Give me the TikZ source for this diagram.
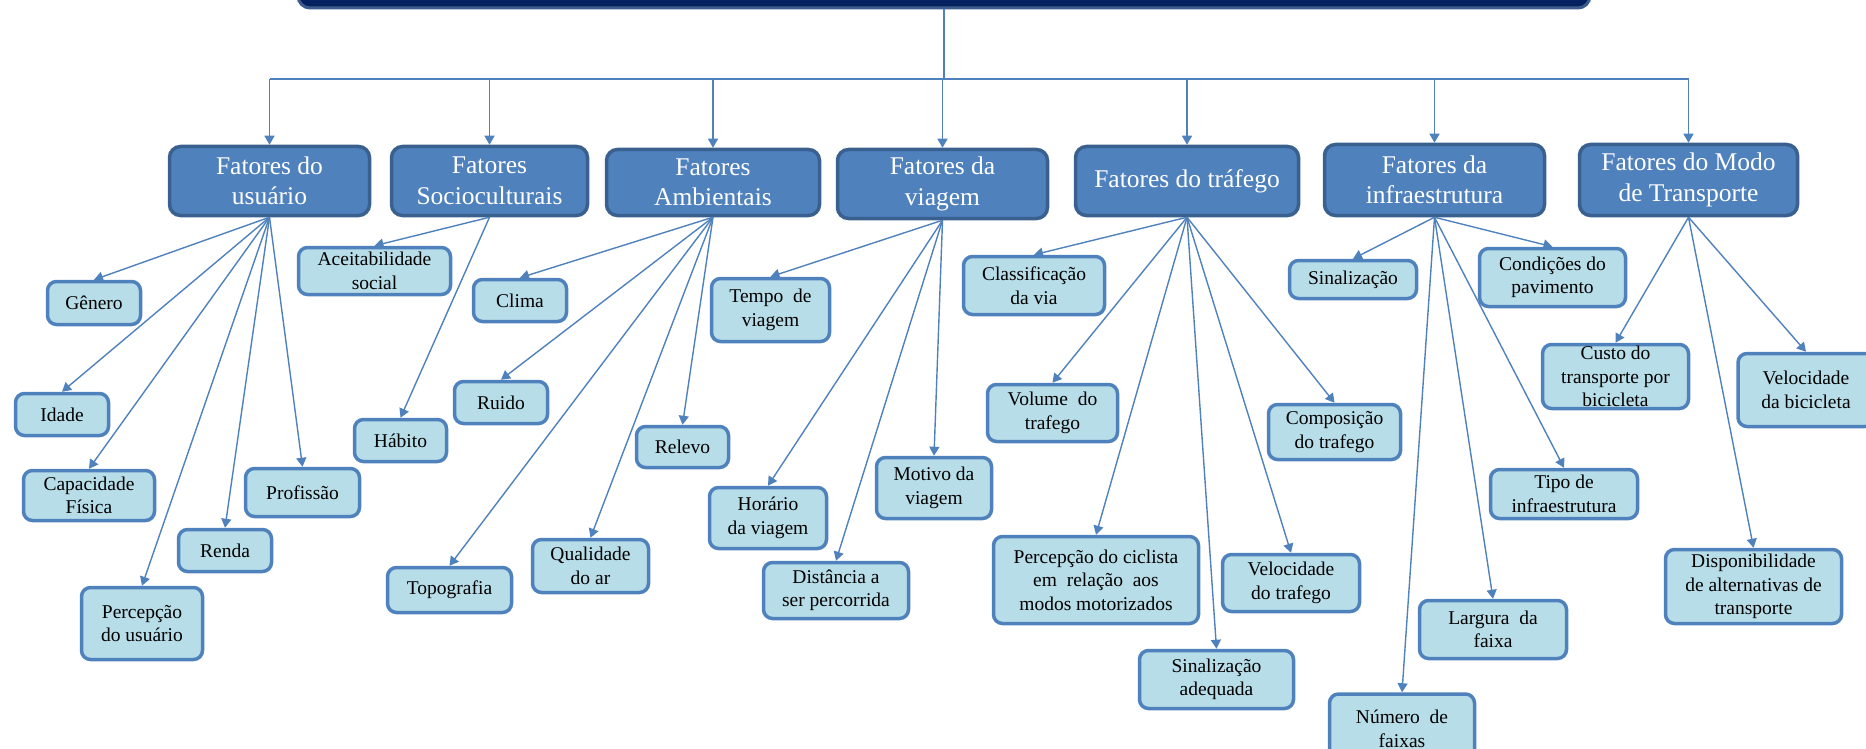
\documentclass[tikz,border=0pt]{standalone}
\usepackage{fontspec}
\setmainfont{Liberation Serif}
\usetikzlibrary{arrows.meta}

\definecolor{navy}{RGB}{6,33,96}
\definecolor{navyedge}{RGB}{62,92,140}
\definecolor{catfill}{RGB}{79,129,189}
\definecolor{catedge}{RGB}{58,96,143}
\definecolor{itemfill}{RGB}{183,221,232}
\definecolor{itemedge}{RGB}{79,129,189}
\definecolor{linkblue}{RGB}{79,129,189}

\begin{document}
\begin{tikzpicture}[x=1pt,y=-1pt,
  headbox/.style={draw=navyedge, fill=navy, line width=3pt, rounded corners=12pt, inner sep=0pt},
  catbox/.style={draw=catedge, fill=catfill, line width=3.5pt, rounded corners=11pt,
    text=white, align=center, inner sep=0pt, font=\fontsize{25.5}{30.5}\selectfont},
  itembox/.style={draw=itemedge, fill=itemfill, line width=3.5pt, rounded corners=9pt,
    text=black, align=center, inner sep=0pt, font=\fontsize{19.5}{23.5}\selectfont},
  dims/.style 2 args={minimum width=#1pt, minimum height=#2pt},
  link/.style={draw=linkblue, line width=1.4pt},
  arr/.style={link, -{Triangle[length=9pt,width=10pt]}},
]
\useasboundingbox (0,0) rectangle (1866,749);
\clip (0,0) rectangle (1866,749);

% title bar at the top edge
\node[headbox, dims={1292}{60}] (head) at (944,-22) {};

% main categories
\node[catbox, dims={200}{69}] (usr) at (269.5,181) {Fatores do\\usuário};
\node[catbox, dims={196}{69}] (soc) at (489.5,181) {Fatores\\Socioculturais};
\node[catbox, dims={213}{66}] (amb) at (713,182.5) {Fatores\\Ambientais};
\node[catbox, dims={210}{69}] (via) at (942.5,184) {Fatores da\\viagem};
\node[catbox, dims={223}{69}] (tra) at (1187,181) {Fatores do tráfego};
\node[catbox, dims={220}{71}] (inf) at (1434.5,180) {Fatores da\\infraestrutura};
\node[catbox, dims={218}{71}] (mod) at (1688.5,180) {Fatores do Modo\\de Transporte};

% distribution bus
\coordinate (bus) at (0,79);
\draw[link] (head.south) -- (head.south |- bus);
\draw[link] (usr.north |- bus) -- (mod.north |- bus);
\foreach \c in {usr,soc,amb,via,tra,inf,mod}
  \draw[arr] (\c.north |- bus) -- (\c.north);

% user factors
\node[itembox, dims={93}{43}] (gen) at (94,303) {Gênero};
\node[itembox, dims={93}{42}] (ida) at (62,414.5) {Idade};
\node[itembox, dims={131}{50}] (cap) at (89,495.5) {Capacidade\\Física};
\node[itembox, dims={93}{42}] (ren) at (225,550.5) {Renda};
\node[itembox, dims={114}{48}] (pro) at (302.5,492.5) {Profissão};
\node[itembox, dims={121}{72}] (pus) at (142,623.5) {Percepção\\do usuário};

% sociocultural factors
\node[itembox, dims={152}{47}] (ace) at (374.5,271) {Aceitabilidade\\social};
\node[itembox, dims={92}{42}] (hab) at (400.5,440.5) {Hábito};

% environmental factors
\node[itembox, dims={93}{42}] (cli) at (520,300.5) {Clima};
\node[itembox, dims={93}{42}] (rui) at (501,402.5) {Ruido};
\node[itembox, dims={92}{41}] (rel) at (682.5,447) {Relevo};
\node[itembox, dims={124}{45}] (topo) at (449.5,590) {Topografia};
\node[itembox, dims={116}{53}] (qua) at (590.5,566) {Qualidade\\do ar};

% trip factors
\node[itembox, dims={118}{63}] (tem) at (770.5,310) {Tempo~ de\\viagem};
\node[itembox, dims={117}{61}] (hor) at (768,518) {Horário\\da viagem};
\node[itembox, dims={145}{56}] (dis) at (836,590.5) {Distância a\\ser percorrida};
\node[itembox, dims={115}{61}] (mot) at (934,488) {Motivo da\\viagem};

% traffic factors
\node[itembox, dims={141}{58}] (cla) at (1034,285.5) {Classificação\\da via};
\node[itembox, dims={130}{57}] (vol) at (1052.5,413) {Volume~ do\\trafego};
\node[itembox, dims={205}{87}] (pci) at (1096,580) {Percepção do ciclista\\em~ relação~ aos\\modos motorizados};
\node[itembox, dims={132}{55}] (com) at (1334.5,432) {Composição\\do trafego};
\node[itembox, dims={137}{57}] (vtr) at (1291,583) {Velocidade\\do trafego};
\node[itembox, dims={154}{58}] (sad) at (1216.5,679.5) {Sinalização\\adequada};

% infrastructure factors
\node[itembox, dims={127}{38}] (sin) at (1353,279.5) {Sinalização};
\node[itembox, dims={146}{58}] (con) at (1552.5,277.5) {Condições do\\pavimento};
\node[itembox, dims={147}{49}] (tip) at (1564,494) {Tipo de\\infraestrutura};
\node[itembox, dims={147}{58}] (lar) at (1493,629.5) {Largura~ da\\faixa};
\node[itembox, dims={145}{70}] (num) at (1402,729) {Número~ de\\faixas};

% transport mode factors
\node[itembox, dims={146}{64}] (cus) at (1615.5,376.5) {Custo do\\transporte por\\bicicleta};
\node[itembox, dims={136}{73}] (vbi) at (1806,390) {Velocidade\\da bicicleta};
\node[itembox, dims={176}{74}] (dsp) at (1753.5,586.5) {Disponibilidade\\de alternativas de\\transporte};

% category-to-factor connectors
\foreach \c/\list in {usr/{gen,ida,cap,ren,pro,pus},
                      soc/{ace,hab},
                      amb/{cli,rui,rel,topo,qua},
                      via/{tem,hor,dis,mot},
                      tra/{cla,vol,pci,com,vtr,sad},
                      inf/{sin,con,tip,lar,num},
                      mod/{cus,vbi,dsp}}
  \foreach \t in \list
    \draw[arr] (\c.south) -- (\t.north);

\end{tikzpicture}
\end{document}
